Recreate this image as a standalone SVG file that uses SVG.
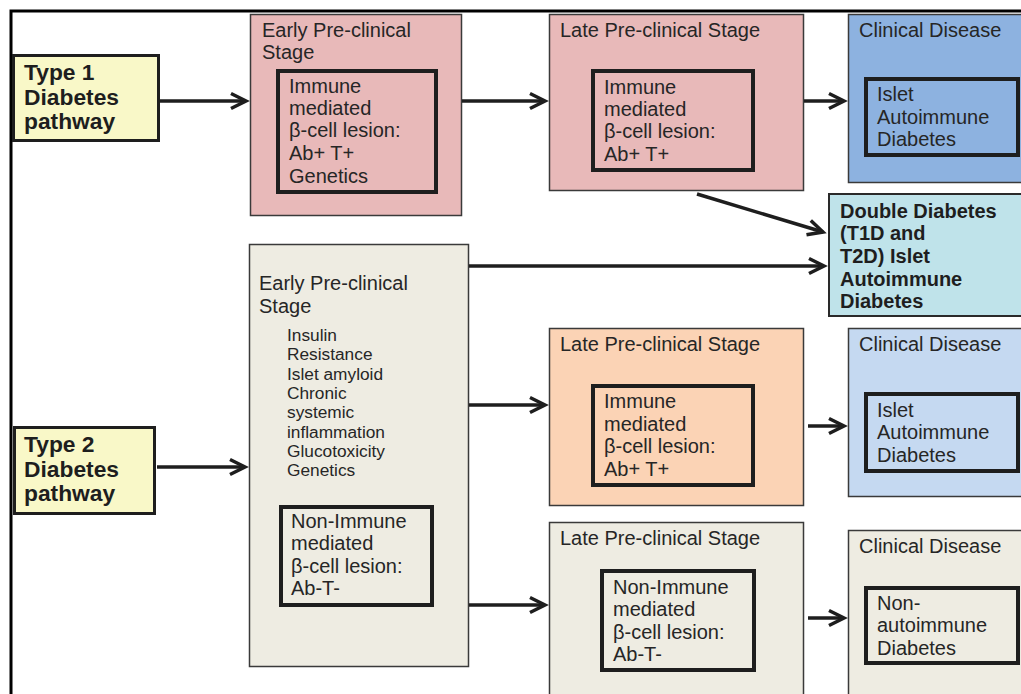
<svg xmlns="http://www.w3.org/2000/svg" width="1021" height="694" viewBox="0 0 1021 694">
<defs>
<style>
.t{font-family:"Liberation Sans",Arial,sans-serif;font-size:20px;fill:#262626}
.l{font-family:"Liberation Sans",Arial,sans-serif;font-size:17.3px;fill:#262626}
.b{font-family:"Liberation Sans",Arial,sans-serif;font-size:22.8px;font-weight:bold;fill:#1e1e1e}
.bd{font-family:"Liberation Sans",Arial,sans-serif;font-size:20px;font-weight:bold;fill:#1e1e1e}
.box{stroke:#3a3a3a;stroke-width:1.5}
.inner{fill:none;stroke:#1e1e1e;stroke-width:4}
.type{fill:#f9f8c8;stroke:#1e1e1e;stroke-width:3}
.pink{fill:#e8b9b9}
.blue{fill:#8db2e0}
.cyan{fill:#bfe3ea}
.beige{fill:#eeece2}
.peach{fill:#fbd3b5}
.lblue{fill:#c5d9f1}
.conn{fill:none;stroke:#1e1e1e;stroke-width:3.5}
</style>
<marker id="ah" markerUnits="userSpaceOnUse" markerWidth="30" markerHeight="30" viewBox="-22 -15 30 30" refX="0" refY="0" orient="auto" overflow="visible">
<path d="M-15,-7.5 L0,0 L-15,7.5" fill="none" stroke="#1e1e1e" stroke-width="3.5"/>
</marker>
</defs>
<rect width="1021" height="694" fill="#ffffff"/>
<path d="M11,694 V11 H1021" fill="none" stroke="#000" stroke-width="3"/>

<g id="type1">
<rect class="type" x="13.5" y="55.5" width="145" height="85"/>
<text class="b" x="24" y="80">Type 1</text>
<text class="b" x="24" y="105">Diabetes</text>
<text class="b" x="24" y="129">pathway</text>
</g>

<g id="t1-early">
<rect class="box pink" x="250.5" y="14.5" width="211" height="201"/>
<text class="t" x="262" y="37">Early Pre-clinical</text>
<text class="t" x="262" y="59">Stage</text>
<rect class="inner" x="278" y="71" width="158" height="121"/>
<text class="t" x="289" y="93">Immune</text>
<text class="t" x="289" y="115">mediated</text>
<text class="t" x="289" y="137">β-cell lesion:</text>
<text class="t" x="289" y="160">Ab+ T+</text>
<text class="t" x="289" y="183">Genetics</text>
</g>

<g id="t1-late">
<rect class="box pink" x="549.5" y="14.5" width="254" height="176"/>
<text class="t" x="560" y="37">Late Pre-clinical Stage</text>
<rect class="inner" x="593" y="71" width="160" height="99"/>
<text class="t" x="604" y="94">Immune</text>
<text class="t" x="604" y="116">mediated</text>
<text class="t" x="604" y="138">β-cell lesion:</text>
<text class="t" x="604" y="161">Ab+ T+</text>
</g>

<g id="t1-clinical">
<rect class="box blue" x="848.5" y="14.5" width="200" height="168"/>
<text class="t" x="859" y="37">Clinical Disease</text>
<rect class="inner" x="866" y="79" width="152" height="76"/>
<text class="t" x="877" y="101">Islet</text>
<text class="t" x="877" y="124">Autoimmune</text>
<text class="t" x="877" y="146">Diabetes</text>
</g>

<g id="double">
<rect class="cyan" x="829" y="194" width="200" height="122" stroke="#2a2a2a" stroke-width="2"/>
<text class="bd" x="840" y="218">Double Diabetes</text>
<text class="bd" x="840" y="240">(T1D and</text>
<text class="bd" x="840" y="263">T2D) Islet</text>
<text class="bd" x="840" y="286">Autoimmune</text>
<text class="bd" x="840" y="308">Diabetes</text>
</g>

<g id="type2">
<rect class="type" x="14.5" y="427.5" width="140" height="86"/>
<text class="b" x="24" y="452">Type 2</text>
<text class="b" x="24" y="477">Diabetes</text>
<text class="b" x="24" y="501">pathway</text>
</g>

<g id="t2-early">
<rect class="box beige" x="249.5" y="244.5" width="219" height="422"/>
<text class="t" x="259" y="290">Early Pre-clinical</text>
<text class="t" x="259" y="313">Stage</text>
<text class="l" x="287" y="341">Insulin</text>
<text class="l" x="287" y="360">Resistance</text>
<text class="l" x="287" y="380">Islet amyloid</text>
<text class="l" x="287" y="399">Chronic</text>
<text class="l" x="287" y="418">systemic</text>
<text class="l" x="287" y="438">inflammation</text>
<text class="l" x="287" y="457">Glucotoxicity</text>
<text class="l" x="287" y="476">Genetics</text>
<rect class="inner" x="281" y="507" width="151" height="98"/>
<text class="t" x="291" y="528">Non-Immune</text>
<text class="t" x="291" y="550">mediated</text>
<text class="t" x="291" y="573">β-cell lesion:</text>
<text class="t" x="291" y="595">Ab-T-</text>
</g>

<g id="t2-late-immune">
<rect class="box peach" x="549.5" y="328.5" width="254" height="177"/>
<text class="t" x="560" y="351">Late Pre-clinical Stage</text>
<rect class="inner" x="593" y="386" width="160" height="99"/>
<text class="t" x="604" y="408">Immune</text>
<text class="t" x="604" y="431">mediated</text>
<text class="t" x="604" y="453">β-cell lesion:</text>
<text class="t" x="604" y="476">Ab+ T+</text>
</g>

<g id="t2-clinical-immune">
<rect class="box lblue" x="848.5" y="328.5" width="200" height="168"/>
<text class="t" x="859" y="351">Clinical Disease</text>
<rect class="inner" x="866" y="394" width="152" height="77"/>
<text class="t" x="877" y="417">Islet</text>
<text class="t" x="877" y="439">Autoimmune</text>
<text class="t" x="877" y="462">Diabetes</text>
</g>

<g id="t2-late-non">
<rect class="box beige" x="549.5" y="522.5" width="254" height="200"/>
<text class="t" x="560" y="545">Late Pre-clinical Stage</text>
<rect class="inner" x="602" y="571" width="152" height="99"/>
<text class="t" x="613" y="594">Non-Immune</text>
<text class="t" x="613" y="616">mediated</text>
<text class="t" x="613" y="639">β-cell lesion:</text>
<text class="t" x="613" y="661">Ab-T-</text>
</g>

<g id="t2-clinical-non">
<rect class="box beige" x="848.5" y="530.5" width="200" height="200"/>
<text class="t" x="859" y="553">Clinical Disease</text>
<rect class="inner" x="866" y="588" width="152" height="75"/>
<text class="t" x="877" y="610">Non-</text>
<text class="t" x="877" y="632">autoimmune</text>
<text class="t" x="877" y="655">Diabetes</text>
</g>

<g id="connectors">
<path class="conn" marker-end="url(#ah)" d="M160,101 H246"/>
<path class="conn" marker-end="url(#ah)" d="M462,101 H545"/>
<path class="conn" marker-end="url(#ah)" d="M804,101 H844"/>
<path class="conn" marker-end="url(#ah)" d="M697,194 L823,232"/>
<path class="conn" marker-end="url(#ah)" d="M469,266 H824"/>
<path class="conn" marker-end="url(#ah)" d="M157,467 H245"/>
<path class="conn" marker-end="url(#ah)" d="M469,405 H545"/>
<path class="conn" marker-end="url(#ah)" d="M808,426 H844"/>
<path class="conn" marker-end="url(#ah)" d="M469,605 H545"/>
<path class="conn" marker-end="url(#ah)" d="M808,618 H844"/>
</g>
</svg>
